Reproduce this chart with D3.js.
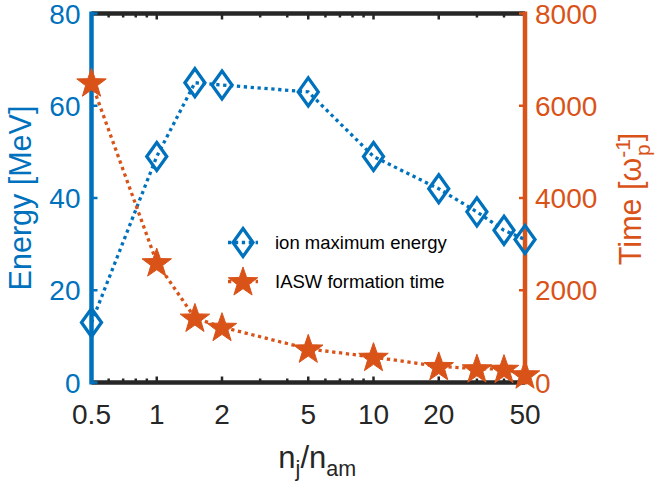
<!DOCTYPE html>
<html>
<head>
<meta charset="utf-8">
<script src="https://cdn.jsdelivr.net/npm/d3@7"></script>
<style>
  body { margin: 0; background: #fff; }
  text { font-family: "Liberation Sans", Arial, Helvetica, sans-serif; }
</style>
</head>
<body>
<div id="chart"></div>
<script>
// values
var ratios = [0.5, 1, 1.5, 2, 5, 10, 20, 30, 40, 50];
var energy = [13, 49, 65, 64.5, 63, 49, 42, 37, 33, 31];
var formTime = [6500, 2600, 1400, 1200, 730, 550, 350, 300, 290, 170];
var xTicks = [0.5, 1, 2, 5, 10, 20, 50];
var xMinor = [0.6, 0.7, 0.8, 0.9, 3, 4, 6, 7, 8, 9, 30, 40];
var energyTicks = [0, 20, 40, 60, 80];
var timeTicks = [0, 2000, 4000, 6000, 8000];

var blue = "#0072BD", orange = "#D95319", dark = "#262626";

var W = 658, H = 495;
var margin = {top: 13.5, right: 133, bottom: 112.5, left: 91.5},
  width = W - margin.left - margin.right,
  height = H - margin.top - margin.bottom;

var svg = d3.select("#chart").append("svg")
  .attr("width", W).attr("height", H);
var g = svg.append("g").attr("transform", `translate(${margin.left},${margin.top})`);

var x = d3.scaleLog().domain([0.5, 50]).range([0, width]);
var yL = d3.scaleLinear().domain([0, 80]).range([height, 0]);
var yR = d3.scaleLinear().domain([0, 8000]).range([height, 0]);

function diamond(w, h) {
  return `M0,${-h}L${w},0L0,${h}L${-w},0Z`;
}
function star(R) {
  var r = R * 0.4, pts = [];
  for (var i = 0; i < 10; i++) {
    var a = -Math.PI / 2 + i * Math.PI / 5, rr = i % 2 ? r : R;
    pts.push([rr * Math.cos(a), rr * Math.sin(a)]);
  }
  return "M" + pts.join("L") + "Z";
}

// box lines + ticks
var tickLen = 6, minorLen = 4;
[0, height].forEach(function(yy, k) {
  var dir = k === 0 ? 1 : -1;
  g.append("line").attr("x1", 0).attr("x2", width).attr("y1", yy).attr("y2", yy)
    .attr("stroke", dark).attr("stroke-width", 4.5);
  g.selectAll(null).data(xTicks).enter().append("line")
    .attr("x1", d => x(d)).attr("x2", d => x(d))
    .attr("y1", yy).attr("y2", yy + dir * tickLen)
    .attr("stroke", dark).attr("stroke-width", 2.5);
  g.selectAll(null).data(xMinor).enter().append("line")
    .attr("x1", d => x(d)).attr("x2", d => x(d))
    .attr("y1", yy).attr("y2", yy + dir * minorLen)
    .attr("stroke", dark).attr("stroke-width", 2.5);
});

g.selectAll(null).data(xTicks).enter().append("text")
  .attr("x", d => x(d)).attr("y", height + 41)
  .attr("text-anchor", "middle").attr("font-size", 28).attr("fill", dark)
  .text(d => d);

// left axis
g.append("line").attr("x1", 0).attr("x2", 0).attr("y1", -2).attr("y2", height + 2)
  .attr("stroke", blue).attr("stroke-width", 4.5);
g.selectAll(null).data(energyTicks).enter().append("line")
  .attr("x1", 0).attr("x2", tickLen).attr("y1", d => yL(d)).attr("y2", d => yL(d))
  .attr("stroke", blue).attr("stroke-width", 2.5);
g.selectAll(null).data(energyTicks).enter().append("text")
  .attr("x", -11).attr("y", d => yL(d)).attr("dy", "0.36em")
  .attr("text-anchor", "end").attr("font-size", 28).attr("fill", blue)
  .text(d => d);
g.append("text")
  .attr("transform", `translate(${-60.5},${height / 2}) rotate(-90)`)
  .attr("text-anchor", "middle").attr("font-size", 30.5).attr("fill", blue)
  .text("Energy [MeV]");

// right axis
g.append("line").attr("x1", width).attr("x2", width).attr("y1", -2).attr("y2", height + 2)
  .attr("stroke", orange).attr("stroke-width", 4.5);
g.selectAll(null).data(timeTicks).enter().append("line")
  .attr("x1", width).attr("x2", width - tickLen).attr("y1", d => yR(d)).attr("y2", d => yR(d))
  .attr("stroke", orange).attr("stroke-width", 2.5);
g.selectAll(null).data(timeTicks).enter().append("text")
  .attr("x", width + 10).attr("y", d => yR(d)).attr("dy", "0.36em")
  .attr("text-anchor", "start").attr("font-size", 28).attr("fill", orange)
  .text(d => d);
var tl = g.append("text")
  .attr("transform", `translate(${width + 116},${height / 2 + 1}) rotate(-90)`)
  .attr("text-anchor", "middle").attr("font-size", 30.5).attr("fill", orange);
tl.append("tspan").text("Time [ω");
tl.append("tspan").attr("font-size", 21).attr("dy", -11).text("-1");
tl.append("tspan").attr("font-size", 21).attr("dx", -17).attr("dy", 20).text("p");
tl.append("tspan").attr("dy", -9).attr("dx", 3).text("]");

// x label
var xl = g.append("text")
  .attr("x", width / 2 + 9).attr("y", height + 85)
  .attr("text-anchor", "middle").attr("font-size", 31).attr("fill", dark);
xl.append("tspan").text("n");
xl.append("tspan").attr("font-size", 21.5).attr("dy", 8).text("j");
xl.append("tspan").attr("dy", -8).text("/n");
xl.append("tspan").attr("font-size", 21.5).attr("dy", 8).text("am");

// series
var pts = ratios.map((r, i) => ({r: r, e: energy[i], t: formTime[i]}));

var lineE = d3.line().x(d => x(d.r)).y(d => yL(d.e));
var lineT = d3.line().x(d => x(d.r)).y(d => yR(d.t));
var dash = "3.3,3.6";

g.append("path").attr("d", lineE(pts)).attr("fill", "none")
  .attr("stroke", blue).attr("stroke-width", 3.3).attr("stroke-dasharray", dash);
g.selectAll(".dia").data(pts).enter().append("path").attr("class", "dia")
  .attr("transform", d => `translate(${x(d.r)},${yL(d.e)})`)
  .attr("d", diamond(10, 14)).attr("fill", "none")
  .attr("stroke", blue).attr("stroke-width", 3.3);

g.append("path").attr("d", lineT(pts)).attr("fill", "none")
  .attr("stroke", orange).attr("stroke-width", 3.3).attr("stroke-dasharray", dash);
g.selectAll(".star").data(pts).enter().append("path").attr("class", "star")
  .attr("transform", d => `translate(${x(d.r)},${yR(d.t) + 1})`)
  .attr("d", star(15.5)).attr("fill", orange)
  .attr("stroke", orange).attr("stroke-width", 1);

// legend
var legend = [
  {label: "ion maximum energy", color: blue, sym: "dia", y: 229},
  {label: "IASW formation time", color: orange, sym: "star", y: 268}
];
var lg = g.selectAll(".leg").data(legend).enter().append("g")
  .attr("transform", d => `translate(${228 - margin.left},${d.y})`);
lg.append("line").attr("x1", 0).attr("x2", 30).attr("stroke", d => d.color)
  .attr("stroke-width", 3.3).attr("stroke-dasharray", dash);
lg.append("path")
  .attr("transform", d => d.sym === "star" ? "translate(15,1)" : "translate(15,0)")
  .attr("d", d => d.sym === "dia" ? diamond(10, 14) : star(15.5))
  .attr("fill", d => d.sym === "dia" ? "none" : orange)
  .attr("stroke", d => d.color).attr("stroke-width", d => d.sym === "dia" ? 3.3 : 1);
lg.append("text").attr("x", 47).attr("dy", "0.35em")
  .attr("font-size", 18.5).attr("fill", "#000").text(d => d.label);
</script>
</body>
</html>
